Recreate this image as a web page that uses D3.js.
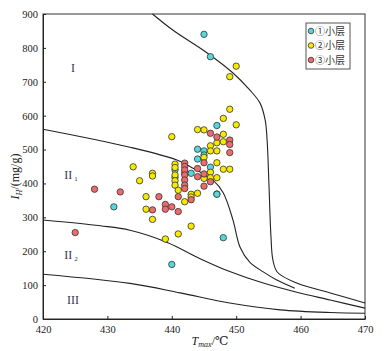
<!DOCTYPE html>
<html>
<head>
<meta charset="utf-8">
<script src="https://cdn.jsdelivr.net/npm/d3@7/dist/d3.min.js"></script>
<style>
  body { margin: 0; background: #fff; }
  svg { display: block; }
</style>
</head>
<body>
<div id="chart"></div>
<script>
// Tmax (°C) vs IH (mg/g), three sub-layers
const layer1 = [[445,840],[446,774],[447,571],[440,161],[448,240],[447,369],[431,331],
  [444,501],[445,496],[445,484],[444,472],[440.5,440],[443,430],[446,448],[447,368],[440.5,418]];
const layer2 = [[450,746],[449,715],[449,619],[448,592],[450,573],[444,559],[445,558],[440,538],
  [448,545],[447,520],[448,523],[446,511],[446,496],[447,496],[445,477],[447,461],[449,442],
  [446,433],[446,417],[447,417],[445,415],[440.5,457],[440.5,447],[440.5,425],[440.5,408],
  [440.5,395],[441,380],[443,368],[444,371],[442,346],[443,360],[434,449],[435,408],[437,430],
  [437,422],[436,361],[436,324],[437,294],[443,274],[441,251],[439,236],[442,432],[448,442]];
const layer3 = [[446,548],[447,537],[449,528],[449,515],[449,491],[445,461],[442,460],[442,450],
  [442,440],[442,425],[444,444],[444,420],[445,428],[442,410],[442,395],[442,385],[441,361],
  [443,352],[445,392],[446,405],[428,383],[432,375],[438,361],[437,322],[439,338],[439,324],
  [440,331],[441,317],[425,255]];

// zone boundaries
const curveI = [[437,900],[440.2,852],[445.5,785],[449.5,726],[452.1,676],[453.7,637],[454.5,587],
  [454.8,528],[455.1,389],[455.4,242],[455.7,174],[456.4,138],[459.4,106],[464.6,77],[470,47]];
const curveII1 = [[420,560],[433.5,507],[440.8,469],[443.3,445],[446.4,410],[448,372],[449.5,292],
  [450.6,212],[452.1,168],[454.2,139],[456.3,115],[459.1,91]];
const curveII2 = [[420,292],[428.9,275],[433.5,262],[439.3,226],[444.4,178],[449,140],[454.2,106],
  [459.4,79],[464.6,56],[470,32]];
const curveIII = [[420,132],[433.5,105],[441.3,77],[449,47],[456.8,27],[464.6,19],[470,17]];

const xTicks = [420, 430, 440, 450, 460, 470];
const yTicks = [0, 100, 200, 300, 400, 500, 600, 700, 800, 900];
const legendNames = ["①小层", "②小层", "③小层"];
const colors = ["#55d8dc", "#f7ea00", "#ef6b6b"];

const W = 392, H = 351;
const mLeft = 43, mRight = 365, mTop = 14, mBottom = 319;

const svg = d3.select("#chart").append("svg")
  .attr("width", W)
  .attr("height", H);

const x = d3.scaleLinear().domain([420, 470]).range([mLeft, mRight]);
const y = d3.scaleLinear().domain([0, 900]).range([mBottom, mTop]);

const serif = "'Liberation Serif', 'DejaVu Serif', serif";

// frame
svg.append("rect")
  .attr("x", mLeft).attr("y", mTop)
  .attr("width", mRight - mLeft).attr("height", mBottom - mTop)
  .attr("fill", "none").attr("stroke", "#333").attr("stroke-width", 1);

// axes
const xAxis = svg.append("g")
  .attr("transform", `translate(0,${mBottom})`)
  .call(d3.axisBottom(x).tickValues(xTicks).tickSizeInner(-3).tickSizeOuter(0).tickPadding(7));
const yAxis = svg.append("g")
  .attr("transform", `translate(${mLeft},0)`)
  .call(d3.axisLeft(y).tickValues(yTicks).tickSizeInner(-3).tickSizeOuter(0).tickPadding(5));

[xAxis, yAxis].forEach(g => {
  g.select(".domain").attr("stroke", "#222");
  g.selectAll("line").attr("stroke", "#222");
  g.selectAll("text")
    .style("font-family", serif)
    .style("font-size", "10.5px")
    .attr("fill", "#222");
});

// boundary curves
const line = d3.line()
  .x(d => x(d[0]))
  .y(d => y(d[1]))
  .curve(d3.curveCatmullRom.alpha(0.5));

[curveI, curveII1, curveII2, curveIII].forEach(c => {
  svg.append("path")
    .attr("d", line(c))
    .attr("fill", "none")
    .attr("stroke", "#222")
    .attr("stroke-width", 1.1);
});

// zone labels
const zoneLabels = [
  {t: "I", sub: "", px: 73, py: 72},
  {t: "II", sub: "1", px: 71, py: 179},
  {t: "II", sub: "2", px: 71, py: 259},
  {t: "III", sub: "", px: 73, py: 304}
];
zoneLabels.forEach(z => {
  const t = svg.append("text")
    .attr("x", z.px).attr("y", z.py)
    .attr("text-anchor", "middle")
    .style("font-family", serif)
    .style("font-size", "12px")
    .attr("fill", "#3a3350")
    .text(z.t);
  if (z.sub) {
    t.append("tspan")
      .attr("dx", 2).attr("dy", 2)
      .style("font-size", "7px")
      .text(z.sub);
  }
});

// points
[layer1, layer2, layer3].forEach((layer, i) => {
  svg.append("g").selectAll("circle")
    .data(layer)
    .enter()
    .append("circle")
      .attr("cx", d => x(d[0]))
      .attr("cy", d => y(d[1]))
      .attr("r", 3.2)
      .attr("fill", colors[i])
      .attr("stroke", "#333")
      .attr("stroke-width", 0.8);
});

// axis titles
const yl = svg.append("text")
  .attr("transform", `translate(19,${(mTop + mBottom) / 2 + 10}) rotate(-90)`)
  .attr("text-anchor", "middle")
  .style("font-family", serif)
  .style("font-size", "12px")
  .attr("fill", "#222");
yl.append("tspan").style("font-style", "italic").text("I");
yl.append("tspan").style("font-style", "italic").style("font-size", "8px").attr("dy", 3).text("H");
yl.append("tspan").attr("dy", -3).text("/(mg/g)");

const xl = svg.append("text")
  .attr("x", 210).attr("y", 345)
  .attr("text-anchor", "middle")
  .style("font-family", serif)
  .style("font-size", "12px")
  .attr("fill", "#222");
xl.append("tspan").style("font-style", "italic").text("T");
xl.append("tspan").style("font-style", "italic").style("font-size", "8px").attr("dy", 2).text("max");
xl.append("tspan").attr("dy", -2).text("/℃");

// legend
const legend = svg.append("g").attr("transform", "translate(306,23)");
legend.append("rect")
  .attr("width", 44).attr("height", 46)
  .attr("fill", "#fff").attr("stroke", "#555").attr("stroke-width", 1);
const items = legend.selectAll(".item")
  .data(legendNames)
  .enter()
  .append("g")
    .attr("class", "item")
    .attr("transform", (d, i) => `translate(0,${8 + i * 14.5})`);
items.append("circle")
  .attr("cx", 5).attr("cy", 0).attr("r", 2.8)
  .attr("fill", (d, i) => colors[i])
  .attr("stroke", "#333").attr("stroke-width", 0.8);
items.append("text")
  .attr("x", 9).attr("y", 0).attr("dy", "0.35em")
  .style("font-family", "'Noto Sans CJK SC', sans-serif")
  .style("font-size", "10px")
  .attr("fill", "#333")
  .text(d => d);
</script>
</body>
</html>
